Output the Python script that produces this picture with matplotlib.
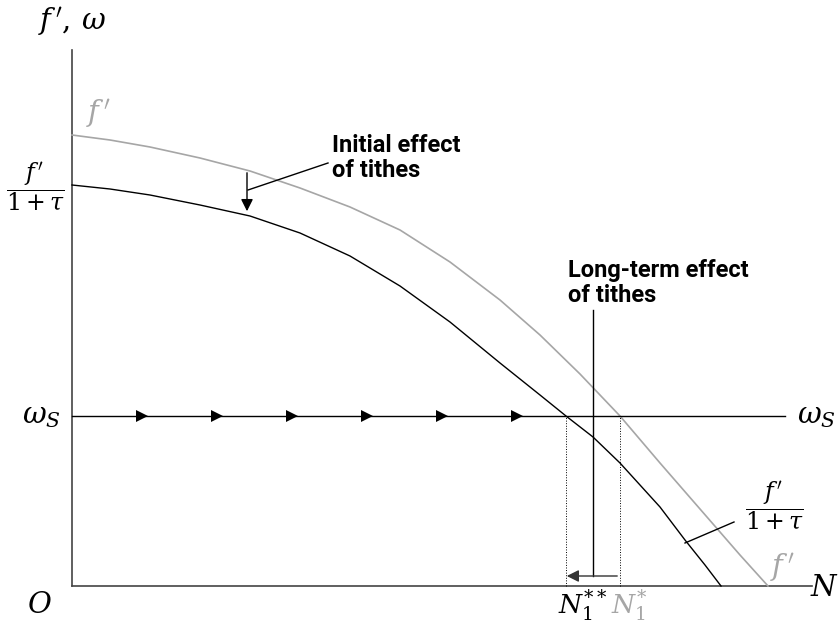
import numpy as np
import matplotlib.pyplot as plt

# curves (origin at O, units ~ pixels)
f_x = [0, 38, 78, 128, 178, 228, 278, 328, 378, 428, 468, 508, 548, 588, 628, 668, 696]
f_y = [451, 446, 439, 428, 415, 398, 379, 356, 324, 286, 251, 212, 170, 123, 77, 31, 0]
ft_x = [0, 38, 78, 128, 178, 228, 278, 328, 378, 428, 468, 494, 521, 548, 588, 613, 633, 649]
ft_y = [401, 397, 391, 381, 370, 353, 330, 300, 264, 223, 191, 170, 149, 123, 79, 46, 21, 0]

omega_s = 170
n_star2 = 494   # N1**
n_star1 = 548   # N1*
flow_x = [70, 145, 220, 295, 370, 445]

GRAY = '#a6a6a6'
bold = dict(family=['Roboto', 'DejaVu Sans'], fontweight='bold', fontsize=17)
plt.rcParams['mathtext.fontset'] = 'dejavuserif'

fig = plt.figure(figsize=(8.38, 6.23), dpi=100)
ax = fig.add_axes([0, 0, 1, 1])
ax.set_xlim(-72, 766)
ax.set_ylim(-37, 586)
ax.axis('off')

# axes
ax.plot([0, 0], [0, 536], color='#444444', lw=1.2)
ax.plot([0, 740], [0, 0], color='#444444', lw=1.2)

# curves
ax.plot(f_x, f_y, color=GRAY, lw=1.2)
ax.plot(ft_x, ft_y, color='black', lw=1.0)

# omega_s line with flow arrows
ax.plot([0, 713], [omega_s, omega_s], color='black', lw=1.0)
for x in flow_x:
    ax.plot(x, omega_s, marker='>', color='black', ms=8, mew=0)

# dotted drop lines
ax.plot([n_star2, n_star2], [0, omega_s], color='black', lw=0.7, ls=':')
ax.plot([n_star1, n_star1], [0, omega_s], color='black', lw=0.7, ls=':')

# initial effect arrow
ax.annotate('', xy=(175, 372), xytext=(175, 416),
            arrowprops=dict(arrowstyle='-|>', color='black', lw=1.0, mutation_scale=18))
ax.plot([176, 256], [396, 423], color='black', lw=1.0)
ax.text(260, 428, 'Initial effect\nof tithes', ha='left', va='center', linespacing=1.1, **bold)

# long-term effect
ax.plot([521, 521], [10, 276], color='black', lw=1.0)
ax.annotate('', xy=(492, 10), xytext=(n_star1, 10),
            arrowprops=dict(arrowstyle='-|>', color='#333333', lw=1.0, mutation_scale=18))
ax.text(496, 303, 'Long-term effect\nof tithes', ha='left', va='center', linespacing=1.1, **bold)

# labels
ax.text(0, 565, r"$f\,',\,\omega$", ha='center', va='center', fontsize=21)
ax.text(14, 473, r"$f\,'$", ha='left', va='center', fontsize=21, color=GRAY)
ax.text(-36, 399, r"$\dfrac{f\,'}{1+\tau}$", ha='center', va='center', fontsize=17)
ax.text(-31, omega_s, r"$\omega_S$", ha='center', va='center', fontsize=21)
ax.text(744, omega_s, r"$\omega_S$", ha='center', va='center', fontsize=21)
ax.text(-32, -19, r"$O$", ha='center', va='center', fontsize=21)
ax.text(752, -2, r"$N$", ha='center', va='center', fontsize=21)
ax.text(511, -19, r"$N_1^{**}$", ha='center', va='center', fontsize=19)
ax.text(557, -19, r"$N_1^{*}$", ha='center', va='center', fontsize=19, color=GRAY)
ax.text(703, 80, r"$\dfrac{f\,'}{1+\tau}$", ha='center', va='center', fontsize=17)
ax.plot([613, 662], [43, 64], color='black', lw=1.0)
ax.text(710, 18, r"$f\,'$", ha='center', va='center', fontsize=21, color=GRAY)

fig.savefig('out.png', dpi=100)
